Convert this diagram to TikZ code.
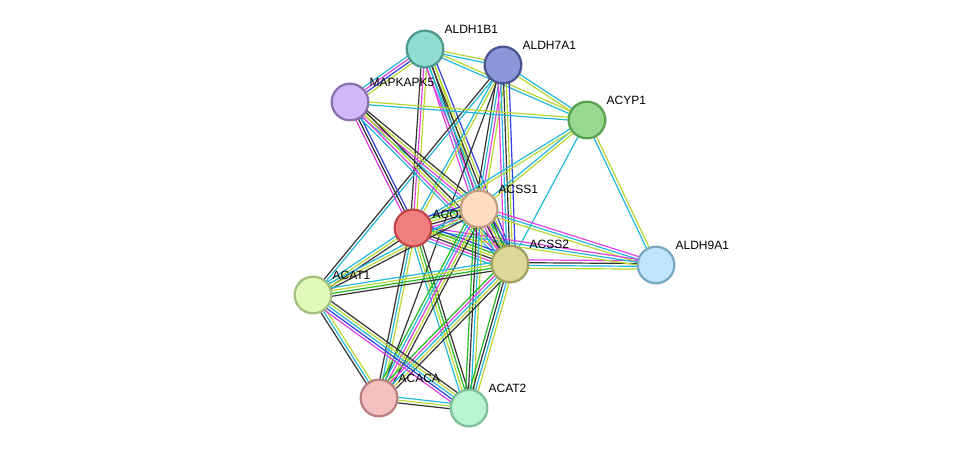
\documentclass[tikz,border=0pt]{standalone}
\usepackage{fontspec}
\setmainfont{Liberation Sans}
\usetikzlibrary{calc}
\definecolor{cy}{HTML}{22B8DA}
\definecolor{mg}{HTML}{E040E0}
\definecolor{bk}{HTML}{333333}
\definecolor{yg}{HTML}{B8D830}
\definecolor{gr}{HTML}{22B822}
\definecolor{bl}{HTML}{3040E0}
\newcommand\sedge[4]{%
\foreach \c [count=\i] in {#4} {%
\pgfmathsetmacro\off{(\i-(#1+1)/2)*2.1}
\draw[draw=\c,line width=0.9pt] ($(#2)!\off pt!90:(#3)$) -- ($(#3)!\off pt!-90:(#2)$);}}
\tikzset{prot/.style={circle,minimum size=27.5pt,line width=1.7pt,inner sep=0pt},
lab/.style={font=\fontsize{9}{10}\selectfont,anchor=south west,inner sep=1pt}}
\newcommand\plab[3]{\node[lab] at ($(#1)+(#2)$) {#3};}
\begin{document}
\begin{tikzpicture}[x=0.75pt,y=-0.75pt]
\useasboundingbox (0,0) rectangle (976,454);
\coordinate (ALDH1B1) at (425,49);
\coordinate (ALDH7A1) at (503,65);
\coordinate (MAPKAPK5) at (350,102);
\coordinate (ACYP1) at (587,120);
\coordinate (ACSS1) at (479,209);
\coordinate (ACO2) at (413,228);
\coordinate (ACSS2) at (510,264);
\coordinate (ALDH9A1) at (656,265);
\coordinate (ACAT1) at (313,295);
\coordinate (ACACA) at (379,398);
\coordinate (ACAT2) at (469,408);
\sedge{4}{ALDH1B1}{MAPKAPK5}{cy,mg,bl,yg}
\sedge{2}{ALDH1B1}{ALDH7A1}{cy,yg}
\sedge{2}{ALDH1B1}{ACYP1}{cy,yg}
\sedge{3}{ALDH1B1}{ACO2}{bk,mg,yg}
\sedge{4}{ALDH1B1}{ACSS1}{mg,cy,bk,yg}
\sedge{5}{ALDH1B1}{ACSS2}{mg,cy,bk,yg,bl}
\sedge{2}{ALDH7A1}{ACYP1}{yg,cy}
\sedge{4}{ALDH7A1}{ACSS1}{bk,cy,mg,yg}
\sedge{5}{ALDH7A1}{ACSS2}{mg,cy,bk,yg,bl}
\sedge{2}{ALDH7A1}{ACO2}{cy,yg}
\sedge{2}{ALDH7A1}{ACAT1}{bk,cy}
\sedge{1}{ALDH7A1}{ACACA}{bk}
\sedge{2}{MAPKAPK5}{ACYP1}{cy,yg}
\sedge{3}{MAPKAPK5}{ACO2}{mg,bk,bl}
\sedge{4}{MAPKAPK5}{ACSS1}{cy,mg,yg,bk}
\sedge{4}{MAPKAPK5}{ACSS2}{cy,mg,yg,bk}
\sedge{2}{ACYP1}{ACSS1}{cy,yg}
\sedge{1}{ACYP1}{ACSS2}{cy}
\sedge{2}{ACYP1}{ALDH9A1}{cy,yg}
\sedge{2}{ACYP1}{ACO2}{cy,yg}
\sedge{4}{ALDH9A1}{ACSS2}{mg,bk,cy,yg}
\sedge{3}{ALDH9A1}{ACSS1}{mg,cy,yg}
\sedge{3}{ALDH9A1}{ACO2}{mg,cy,yg}
\sedge{6}{ACO2}{ACSS1}{cy,mg,bk,yg,gr,bl}
\sedge{6}{ACO2}{ACSS2}{cy,mg,bk,yg,gr,bl}
\sedge{3}{ACO2}{ACAT1}{cy,yg,bk}
\sedge{3}{ACO2}{ACACA}{bk,cy,yg}
\sedge{4}{ACO2}{ACAT2}{cy,yg,gr,bk}
\sedge{6}{ACSS1}{ACSS2}{cy,mg,bk,yg,gr,bl}
\sedge{3}{ACSS1}{ACAT1}{cy,yg,bk}
\sedge{5}{ACSS1}{ACACA}{gr,cy,mg,yg,bk}
\sedge{4}{ACSS1}{ACAT2}{gr,bk,cy,yg}
\sedge{4}{ACSS2}{ACAT1}{cy,yg,gr,bk}
\sedge{5}{ACSS2}{ACACA}{gr,mg,cy,yg,bk}
\sedge{4}{ACSS2}{ACAT2}{gr,bk,cy,yg}
\sedge{3}{ACAT1}{ACACA}{bk,cy,yg}
\sedge{5}{ACAT1}{ACAT2}{mg,bl,cy,yg,bk}
\sedge{3}{ACACA}{ACAT2}{bk,yg,cy}
\node[prot,fill={rgb,255:red,143;green,220;blue,208},draw={rgb,255:red,77;green,153;blue,144}] (nALDH1B1) at (ALDH1B1) {};
\node[prot,fill={rgb,255:red,140;green,151;blue,216},draw={rgb,255:red,74;green,84;blue,142}] (nALDH7A1) at (ALDH7A1) {};
\node[prot,fill={rgb,255:red,208;green,184;blue,248},draw={rgb,255:red,138;green,115;blue,173}] (nMAPKAPK5) at (MAPKAPK5) {};
\node[prot,fill={rgb,255:red,152;green,216;blue,144},draw={rgb,255:red,87;green,162;blue,79}] (nACYP1) at (ACYP1) {};
\node[prot,fill={rgb,255:red,240;green,128;blue,128},draw={rgb,255:red,192;green,72;blue,72}] (nACO2) at (ACO2) {};
\plab{ACO2}{18,-8}{ACO2}
\node[prot,fill={rgb,255:red,253;green,220;blue,192},draw={rgb,255:red,192;green,160;blue,128}] (nACSS1) at (ACSS1) {};
\node[prot,fill={rgb,255:red,220;green,216;blue,152},draw={rgb,255:red,160;green,160;blue,96}] (nACSS2) at (ACSS2) {};
\node[prot,fill={rgb,255:red,192;green,228;blue,252},draw={rgb,255:red,122;green,168;blue,196}] (nALDH9A1) at (ALDH9A1) {};
\node[prot,fill={rgb,255:red,224;green,248;blue,184},draw={rgb,255:red,164;green,192;blue,128}] (nACAT1) at (ACAT1) {};
\node[prot,fill={rgb,255:red,244;green,192;blue,192},draw={rgb,255:red,184;green,128;blue,128}] (nACACA) at (ACACA) {};
\node[prot,fill={rgb,255:red,184;green,244;blue,208},draw={rgb,255:red,124;green,192;blue,152}] (nACAT2) at (ACAT2) {};
\plab{ALDH1B1}{18,-14}{ALDH1B1}
\plab{ALDH7A1}{18,-14}{ALDH7A1}
\plab{MAPKAPK5}{18,-14}{MAPKAPK5}
\plab{ACYP1}{18,-14}{ACYP1}
\plab{ACSS1}{18,-14}{ACSS1}
\plab{ACSS2}{18,-14}{ACSS2}
\plab{ALDH9A1}{18,-14}{ALDH9A1}
\plab{ACAT1}{18,-14}{ACAT1}
\plab{ACACA}{18,-14}{ACACA}
\plab{ACAT2}{18,-14}{ACAT2}
\end{tikzpicture}
\end{document}
